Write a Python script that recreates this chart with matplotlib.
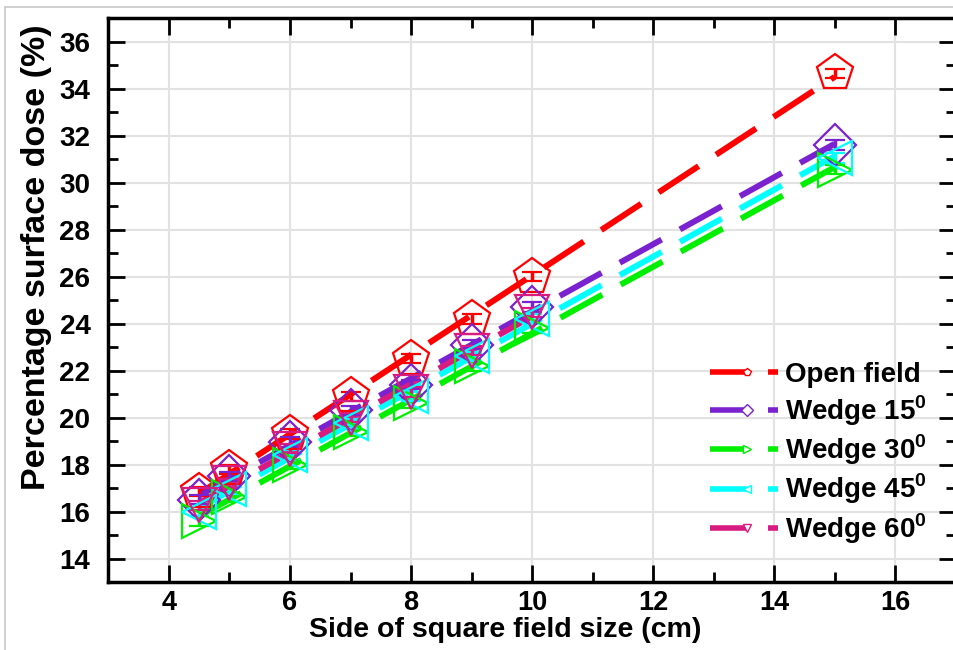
import numpy as np
import matplotlib
matplotlib.use("Agg")
import matplotlib.pyplot as plt
from matplotlib.lines import Line2D
from matplotlib.legend_handler import HandlerBase
from matplotlib.patches import Rectangle

plt.rcParams['font.family'] = ['Liberation Sans', 'DejaVu Sans']
plt.rcParams['font.weight'] = 'bold'
plt.rcParams['mathtext.fontset'] = 'custom'
plt.rcParams['mathtext.rm'] = 'Liberation Sans:bold'
plt.rcParams['mathtext.bf'] = 'Liberation Sans:bold'

# data
field = [4.5, 5, 6, 7, 8, 9, 10, 15]
open_field = [16.85, 17.8, 19.3, 20.9, 22.5, 24.2, 26.0, 34.65]
wedge15 = [16.5, 17.5, 18.95, 20.3, 21.4, 23.1, 24.7, 31.6]
wedge30 = [15.6, 16.6, 18.0, 19.4, 20.6, 22.2, 23.8, 30.55]
wedge45 = [16.0, 16.95, 18.4, 19.75, 20.9, 22.6, 24.2, 31.05]
field60 = [4.5, 5, 6, 7, 8, 9, 10]
wedge60 = [16.26, 17.2, 18.68, 20.0, 21.08, 22.85, 24.47]
err = 0.2

labels = ['Open field', r'Wedge 15$^\mathbf{0}$', r'Wedge 30$^\mathbf{0}$',
          r'Wedge 45$^\mathbf{0}$', r'Wedge 60$^\mathbf{0}$']
colors = ['#ff0000', '#7a22d0', '#00ee00', '#00ffff', '#d81b80']
markers = ['p', 'D', '>', '<', 'v']
msizes = [27, 21, 24, 24, 24]

series = [(field, open_field), (field, wedge15), (field, wedge30),
          (field, wedge45), (field60, wedge60)]


class OriginHandler(HandlerBase):
    def __init__(self, color, marker):
        super().__init__()
        self.color = color
        self.marker = marker

    def create_artists(self, legend, orig_handle, xdescent, ydescent,
                       width, height, fontsize, trans):
        y = height / 2 - ydescent
        x0 = -xdescent
        a = Line2D([x0, x0 + 0.55 * width], [y, y], color=self.color, lw=4,
                   solid_capstyle='butt')
        b = Line2D([x0 + 0.55 * width], [y], marker=self.marker, ms=6,
                   mfc='white', mec=self.color, mew=1, ls='none')
        c = Line2D([x0 + 0.85 * width, x0 + width], [y, y], color=self.color,
                   lw=4, solid_capstyle='butt')
        for art in (a, b, c):
            art.set_transform(trans)
        return [a, b, c]


fig = plt.figure(figsize=(9.54, 6.5), dpi=100)
fig.patches.append(Rectangle((5 / 954, -0.1), 1.2, 1 - 7 / 650 + 0.1,
                             transform=fig.transFigure, fill=False,
                             edgecolor='#c8c8c8', lw=1.2))
ax = fig.add_axes([0.1137, 0.1046, 0.888, 0.8677])

handles = []
for (xs, ys), lab, c, m, s in zip(series, labels, colors, markers, msizes):
    xs = np.array(xs)
    ys = np.array(ys)
    k, b0 = np.polyfit(xs, ys, 1)
    xl = np.array([xs.min(), xs.max()])
    ax.plot(xl, k * xl + b0, color=c, lw=4.3, dashes=(8, 3.5), zorder=2)
    ax.errorbar(xs, ys, yerr=err, fmt=m, ms=s, mfc='none', mec=c, mew=1.6,
                ecolor=c, elinewidth=2.5, capsize=7, capthick=3, zorder=3)
    handles.append(Line2D([], [], color=c))

ax.set_xlim(3, 17)
ax.set_ylim(13, 37)
ax.set_xticks(np.arange(4, 17, 2))
ax.set_xticks(np.arange(3, 17, 1), minor=True)
ax.set_yticks(np.arange(14, 37, 2))
ax.set_yticks(np.arange(13, 37, 1), minor=True)
ax.grid(which='major', color='#e2e2e2', lw=1.5, zorder=0)
ax.set_axisbelow(True)
ax.tick_params(which='both', direction='in', top=True, right=True,
               labelsize=20, width=2)
ax.tick_params(axis='y', pad=13)
ax.tick_params(axis='x', pad=6, labelsize=19.5)
ax.tick_params(which='major', length=12)
ax.tick_params(which='minor', length=7)
for sp in ax.spines.values():
    sp.set_linewidth(2.5)

ax.set_xlabel('Side of square field size (cm)', fontsize=20.5,
              fontweight='bold', labelpad=0)
ax.xaxis.set_label_coords(0.468, -0.062)
ax.set_ylabel('Percentage surface dose (%)', fontsize=24.5,
              fontweight='bold')
ax.yaxis.set_label_coords(-0.067, 0.576)

hmap = {h: OriginHandler(c, m) for h, c, m in zip(handles, colors, markers)}
ax.legend(handles, labels, handler_map=hmap, frameon=False,
          loc='upper left', bbox_to_anchor=(710 / 954, 1 - 362 / 650),
          bbox_transform=fig.transFigure, fontsize=20, handlelength=2.45,
          handletextpad=0.25, labelspacing=0.18, borderpad=0, borderaxespad=0)

fig.savefig('out.png', dpi=100)
